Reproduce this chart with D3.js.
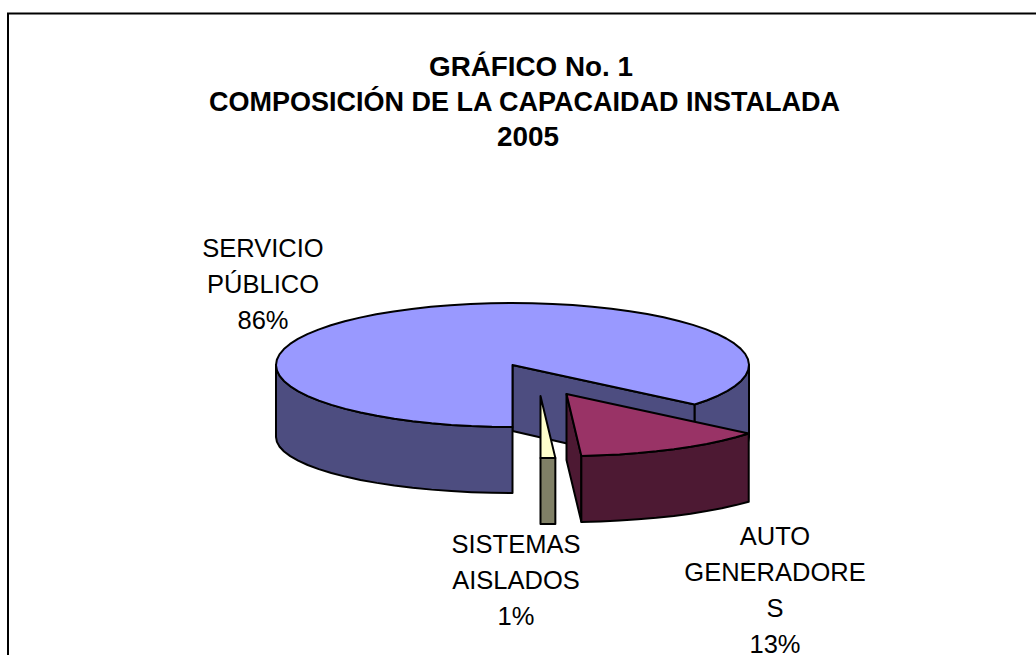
<!DOCTYPE html>
<html>
<head>
<meta charset="utf-8">
<script src="https://cdnjs.cloudflare.com/ajax/libs/d3/7.8.5/d3.min.js"></script>
<style>
  html, body { margin: 0; padding: 0; background: #fff; }
  text { font-family: "Liberation Sans", Arial, sans-serif; fill: #000; }
</style>
</head>
<body>
<div id="chart"></div>
<script>
// Data
const categories = ["SERVICIO PÚBLICO", "AUTO GENERADORES", "SISTEMAS AISLADOS"];
const shares = [86, 13, 1];
const titleLines = ["GRÁFICO No. 1", "COMPOSICIÓN DE LA CAPACAIDAD INSTALADA", "2005"];
const labelLines = [
  ["SERVICIO", "PÚBLICO", "86%"],
  ["AUTO", "GENERADORE", "S", "13%"],
  ["SISTEMAS", "AISLADOS", "1%"]
];

const width = 1036, height = 655;

const svg = d3.select("#chart").append("svg")
  .attr("width", width)
  .attr("height", height)
  .style("display", "block");

// Frame, only top and left are in the crop
svg.append("path")
  .attr("d", "M8,655V13.5H1036")
  .attr("fill", "none")
  .attr("stroke", "#000")
  .attr("stroke-width", 2);

// Title, each line has its own start and width in the original
const titleBox = [
  { x: 429, y: 76, w: 204 },
  { x: 209, y: 111, w: 631 },
  { x: 497, y: 146, w: 62 }
];

svg.selectAll(".title")
  .data(titleLines)
  .enter().append("text")
  .attr("class", "title")
  .attr("x", (d, i) => titleBox[i].x)
  .attr("y", (d, i) => titleBox[i].y)
  .attr("textLength", (d, i) => titleBox[i].w)
  .attr("lengthAdjust", "spacingAndGlyphs")
  .style("font-size", "27.5px")
  .style("font-weight", "bold")
  .text((d) => d);

// Pie angles, first slice starts at the front of the disc
const pie = d3.pie().sort(null).startAngle(Math.PI).endAngle(3 * Math.PI);
const slices = pie(shares);

// Flattened disc: sin/cos of the angle mapped to pixels
const xScale = d3.scaleLinear().domain([-1, 1]).range([276, 749]);
const yScale = d3.scaleLinear().domain([-1, 1]).range([303, 427]);

const sliceStyles = [
  { top: "#9999FF", wall: "#4D4D80", dx: 0, dy: 0 },
  { top: "#993366", wall: "#4D1933", dx: 54, dy: 29 },
  { top: "#FFFFCC", wall: "#808066", dx: 28, dy: 31 }
];

const line = d3.line();

// depth is a bit larger at the sides, the drawing has some perspective
function rim(angle, st, lower) {
  const s = Math.sin(angle), c = -Math.cos(angle);
  const depth = lower ? 66 + 6 * (1 - Math.abs(c)) : 0;
  return [xScale(s) + st.dx, yScale(c) + st.dy + depth];
}

function arcPoints(a0, a1, st, lower) {
  const n = Math.max(1, Math.ceil(Math.abs(a1 - a0) / (5 * Math.PI / 180)));
  return d3.range(n + 1).map((i) => rim(a0 + (a1 - a0) * i / n, st, lower));
}

function apex(st, lower) {
  return [xScale(0) + st.dx, yScale(0) + st.dy + (lower ? 66 : 0)];
}

function addShape(points, fill) {
  svg.append("path")
    .attr("d", line(points) + "Z")
    .attr("fill", fill)
    .attr("stroke", "#000")
    .attr("stroke-width", 2)
    .attr("stroke-linejoin", "round");
}

// Outer wall, only the part of the arc facing the viewer
function outerWall(a0, a1, st) {
  addShape(arcPoints(a0, a1, st, false).concat(arcPoints(a1, a0, st, true)), st.wall);
}

// Flat cut wall from the centre to the rim
function cutWall(angle, st) {
  addShape([apex(st, false), rim(angle, st, false), rim(angle, st, true), apex(st, true)], st.wall);
}

function topFace(a0, a1, st) {
  addShape([apex(st, false)].concat(arcPoints(a0, a1, st, false)), st.top);
}

const big = slices[0], auto = slices[1], small = slices[2];
const TAU = 2 * Math.PI;

// Big slice
cutWall(big.endAngle, sliceStyles[0]);
outerWall(Math.PI, 1.5 * Math.PI, sliceStyles[0]);
outerWall(TAU + Math.PI / 2, big.endAngle, sliceStyles[0]);
topFace(big.startAngle, big.endAngle, sliceStyles[0]);

// Small slice
outerWall(small.startAngle, small.endAngle, sliceStyles[2]);
topFace(small.startAngle, small.endAngle, sliceStyles[2]);

// Auto generadores slice
cutWall(auto.endAngle, sliceStyles[1]);
outerWall(auto.startAngle, auto.endAngle, sliceStyles[1]);
topFace(auto.startAngle, auto.endAngle, sliceStyles[1]);

// Labels, wrapped as in the original
const labelPos = [
  { x: 263, y: 257 },
  { x: 775, y: 545 },
  { x: 516, y: 553 }
];

labelLines.forEach((lines, k) => {
  svg.append("g")
    .attr("class", "label")
    .attr("data-category", categories[k])
    .selectAll("text")
    .data(lines)
    .enter().append("text")
    .attr("x", labelPos[k].x)
    .attr("y", (d, i) => labelPos[k].y + i * 36)
    .attr("text-anchor", "middle")
    .style("font-size", "25.5px")
    .text((d) => d);
});
</script>
</body>
</html>
